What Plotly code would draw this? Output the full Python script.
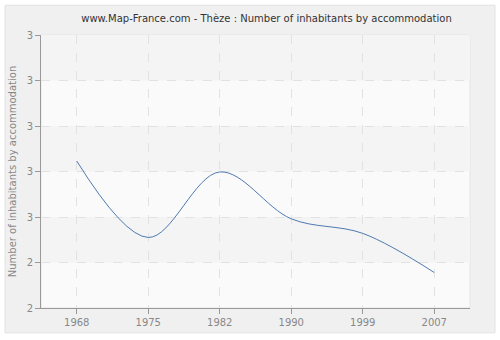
import plotly.graph_objects as go

years = ["1968", "1975", "1982", "1990", "1999", "2007"]
values = [2.623, 2.455, 2.599, 2.496, 2.464, 2.378]
tick_vals = [2.3, 2.4, 2.5, 2.6, 2.7, 2.8, 2.9]
tick_text = ["2", "2", "3", "3", "3", "3", "3"]

fig = go.Figure()
fig.add_trace(go.Scatter(
    x=years, y=values, mode="lines",
    line=dict(color="#4f79b0", width=1, shape="spline", smoothing=1.0),
    hoverinfo="skip", showlegend=False,
))

fig.add_shape(type="rect", xref="paper", yref="paper",
              x0=-0.0839, x1=1.0583, y0=-0.0909, y1=1.109,
              fillcolor="#f0f0f0", line=dict(color="#e2e2e2", width=1), layer="below")
fig.add_shape(type="rect", xref="x domain", yref="y domain",
              x0=0, x1=1, y0=0, y1=1,
              fillcolor="#fafafa", line=dict(color="#e4e4e4", width=1), layer="below")
# alternating hatched bands (approximated by a slightly darker fill)
for i in range(0, len(tick_vals) - 1):
    if i % 2 == 1:
        fig.add_shape(type="rect", xref="x domain", yref="y",
                      x0=0, x1=1, y0=tick_vals[i], y1=tick_vals[i + 1],
                      fillcolor="#f4f4f4", line=dict(width=0), layer="below")

axis_font = dict(family="DejaVu Sans", size=10, color="#888888")
fig.update_layout(
    width=500, height=340,
    margin=dict(l=41, r=30, t=35, b=30),
    paper_bgcolor="#ffffff", plot_bgcolor="#f9f9f9",
    title=dict(text="www.Map-France.com - Thèze : Number of inhabitants by accommodation",
               x=0.533, xanchor="center", y=0.945, yanchor="middle",
               font=dict(family="DejaVu Sans", size=10, color="#333333")),
    xaxis=dict(type="category", range=[-0.5, 5.5], showline=True, linecolor="#999999",
               ticks="outside", ticklen=5, tickcolor="#999999",
               showgrid=True, gridcolor="#e2e2e2", griddash="dash", gridwidth=1,
               tickfont=axis_font, zeroline=False, fixedrange=True),
    yaxis=dict(range=[2.3, 2.9], tickvals=tick_vals, ticktext=tick_text,
               showline=True, linecolor="#999999",
               ticks="outside", ticklen=5, tickcolor="#999999",
               showgrid=True, gridcolor="#e2e2e2", griddash="dash", gridwidth=1,
               tickfont=axis_font, zeroline=False,
               title=dict(text="Number of inhabitants by accommodation",
                          font=dict(family="DejaVu Sans", size=10, color="#888888"),
                          standoff=8)),
)

fig.write_html("out.html")
